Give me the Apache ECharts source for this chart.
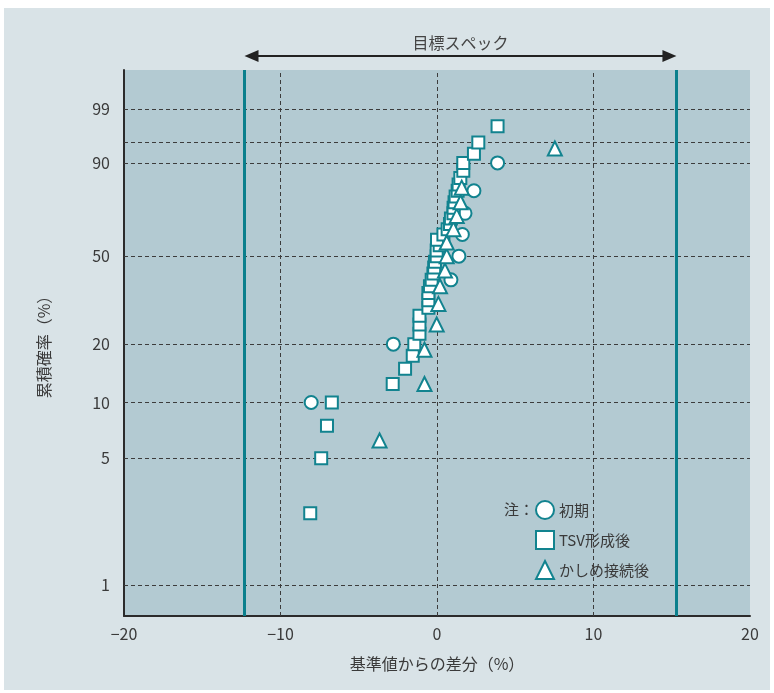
<!DOCTYPE html>
<html>
<head>
<meta charset="utf-8">
<script src="https://cdn.jsdelivr.net/npm/echarts@6/dist/echarts.min.js"></script>
<style>
  html, body { margin: 0; padding: 0; background: #ffffff; }
  #chart { width: 774px; height: 693px; }
</style>
</head>
<body>
<div id="chart"></div>
<script>
// X axis range (difference from reference value, %)
const xMin = -20;
const xMax = 20;
const xInterval = 10;
const xGridValues = [-10, 0, 10];

// Cumulative probability axis (Weibull paper)
const probLabels = [1, 5, 10, 20, 50, 90, 99];
const probGrid = [1, 5, 10, 20, 50, 90, 95, 99];

// Target specification limits
const specLow = -12.3;
const specHigh = 15.3;

// 初期
const initialX = [-8.04, -2.79, 0.89, 1.40, 1.62, 1.79, 2.36, 3.87];
const initialP = [10, 20, 40, 50, 60, 70, 80, 90];

// TSV形成後
const tsvX = [-8.10, -7.40, -7.03, -6.72, -2.83, -2.04, -1.55, -1.45, -1.12, -1.12,
              -1.12, -0.55, -0.55, -0.55, -0.45, -0.34, -0.23, -0.18, -0.13, -0.02,
              -0.02, 0.17, 0.00, 0.41, 0.68, 0.83, 0.89, 1.05, 1.06, 1.12,
              1.19, 1.32, 1.38, 1.49, 1.68, 1.68, 2.36, 2.64, 3.87];
const tsvP = [2.5, 5, 7.5, 10, 12.5, 15, 17.5, 20, 22.5, 25,
              27.5, 30, 32.5, 35, 37.5, 40, 42.5, 45, 47.5, 50,
              52.5, 55, 57.5, 60, 62.5, 65, 67.5, 70, 72.5, 75,
              77.5, 80, 82.5, 85, 87.5, 90, 92.5, 95, 97.5];

// かしめ接続後
const crimpX = [-3.67, -0.80, -0.80, -0.02, 0.09, 0.19, 0.51, 0.62, 0.62, 1.05, 1.26, 1.51, 1.58, 7.53];
const crimpP = [6.25, 12.5, 18.75, 25, 31.25, 37.5, 43.75, 50, 56.25, 62.5, 68.75, 75, 81.25, 93.75];

// Weibull probability transform: ln(-ln(1 - F))
function weib(p) { return Math.log(-Math.log(1 - p / 100)); }

function pairs(xs, ps) { return xs.map((x, i) => [x, weib(ps[i])]); }

const teal = '#12838f';
const textColor = '#3a3a3a';
const fontFamily = '"Noto Sans CJK JP", "Noto Sans", sans-serif';

const chart = echarts.init(document.getElementById('chart'), null, { renderer: 'canvas' });

const labelValues = probLabels.map(weib);

const gridLines = probGrid.map(p => ({ yAxis: weib(p) }))
  .concat(xGridValues.map(v => ({ xAxis: v })));

const pointStyle = { color: '#ffffff', borderColor: teal, borderWidth: 2, opacity: 1 };

const option = {
  backgroundColor: '#ffffff',
  animation: false,
  textStyle: { fontFamily: fontFamily },
  grid: { left: 124, right: 24, top: 70, bottom: 77, show: true, backgroundColor: '#b3cad2', borderWidth: 0 },
  xAxis: {
    type: 'value', min: xMin, max: xMax, interval: xInterval,
    name: '基準値からの差分（%）', nameLocation: 'middle', nameGap: 40,
    nameTextStyle: { fontSize: 16, color: textColor, fontFamily: fontFamily },
    axisLine: { show: true, onZero: false, lineStyle: { color: '#2b2b2b', width: 2 } },
    axisTick: { show: false },
    splitLine: { show: false },
    axisLabel: {
      margin: 10, fontSize: 16, color: textColor, fontFamily: fontFamily,
      formatter: v => (v < 0 ? '\u2212' + Math.abs(v) : String(v))
    }
  },
  yAxis: {
    type: 'value', min: -5, max: 2.03,
    name: '累積確率（%）', nameLocation: 'middle', nameGap: 72, nameRotate: 90,
    nameTextStyle: { fontSize: 16, color: textColor, fontFamily: fontFamily },
    axisLine: { show: true, onZero: false, lineStyle: { color: '#2b2b2b', width: 2 } },
    axisTick: { show: false },
    splitLine: { show: false },
    axisLabel: {
      margin: 14, fontSize: 16, color: textColor, fontFamily: fontFamily,
      customValues: labelValues,
      formatter: v => {
        let best = probLabels[0], d = Infinity;
        probLabels.forEach(p => { const dd = Math.abs(weib(p) - v); if (dd < d) { d = dd; best = p; } });
        return String(best);
      }
    }
  },
  legend: {
    orient: 'vertical', left: 530, top: 495,
    itemWidth: 18, itemHeight: 18, itemGap: 10,
    textStyle: { fontSize: 15, color: textColor, fontFamily: fontFamily, padding: [0, 0, 0, 0] },
    data: ['初期', 'TSV形成後', 'かしめ接続後']
  },
  series: [
    {
      name: 'grid', type: 'scatter', data: [], silent: true, z: 1,
      markLine: {
        silent: true, symbol: 'none', animation: false, z: 1,
        label: { show: false },
        lineStyle: { color: '#3c3c3c', type: [4, 3], width: 1 },
        data: gridLines
      }
    },
    {
      name: 'spec', type: 'scatter', data: [], silent: true, z: 1,
      markLine: {
        silent: true, symbol: 'none', animation: false, z: 1,
        label: { show: false },
        lineStyle: { color: '#0b7f8c', type: 'solid', width: 3 },
        data: [{ xAxis: specLow }, { xAxis: specHigh }]
      }
    },
    { name: '初期', type: 'scatter', symbol: 'circle', symbolSize: 13, itemStyle: pointStyle, data: pairs(initialX, initialP), z: 3 },
    { name: 'TSV形成後', type: 'scatter', symbol: 'rect', symbolSize: 12, itemStyle: pointStyle, data: pairs(tsvX, tsvP), z: 4 },
    { name: 'かしめ接続後', type: 'scatter', symbol: 'triangle', symbolSize: 14, itemStyle: pointStyle, data: pairs(crimpX, crimpP), z: 5 }
  ]
};

chart.setOption(option);

// Panel background, target-spec arrow and legend note
const xl = chart.convertToPixel({ xAxisIndex: 0 }, specLow);
const xh = chart.convertToPixel({ xAxisIndex: 0 }, specHigh);
const ay = 56;
chart.setOption({
  graphic: [
    { type: 'rect', z: -10, silent: true, shape: { x: 4, y: 8, width: 766, height: 682 }, style: { fill: '#d9e3e7' } },
    { type: 'line', z: 10, shape: { x1: xl + 10, y1: ay, x2: xh - 10, y2: ay }, style: { stroke: '#222222', lineWidth: 2 } },
    { type: 'polygon', z: 10, shape: { points: [[xl, ay], [xl + 14, ay - 6], [xl + 14, ay + 6]] }, style: { fill: '#222222' } },
    { type: 'polygon', z: 10, shape: { points: [[xh, ay], [xh - 14, ay - 6], [xh - 14, ay + 6]] }, style: { fill: '#222222' } },
    { type: 'text', z: 10, x: (xl + xh) / 2, y: 43, style: { text: '目標スペック', align: 'center', verticalAlign: 'middle', fontSize: 16, fontFamily: fontFamily, fill: '#444444' } },
    { type: 'text', z: 10, x: 504, y: 509, style: { text: '注：', align: 'left', verticalAlign: 'middle', fontSize: 15, fontFamily: fontFamily, fill: textColor } }
  ]
});
</script>
</body>
</html>
